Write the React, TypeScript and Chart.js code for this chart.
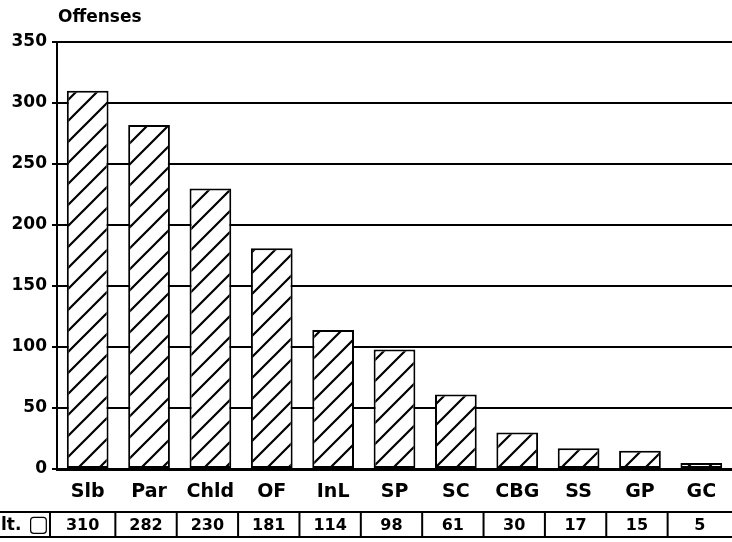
import React, { useEffect, useRef } from "react";
import { Chart, registerables } from "chart.js";

Chart.register(...registerables);

const categories = ["Slb", "Par", "Chld", "OF", "InL", "SP", "SC", "CBG", "SS", "GP", "GC"];
const offenses = [310, 282, 230, 181, 114, 98, 61, 30, 17, 15, 5];
const axisTitle = "Offenses";
const tableRowLabel = "lt.";
const tableRowIcon = "▢";
const yMin = 0;
const yMax = 350;
const yStep = 50;

function makeHatch(): CanvasPattern | string {
  const s = 21;
  const c = document.createElement("canvas");
  c.width = s;
  c.height = s;
  const g = c.getContext("2d");
  if (!g) return "#fff";
  g.fillStyle = "#fff";
  g.fillRect(0, 0, s, s);
  g.strokeStyle = "#000";
  g.lineWidth = 2.2;
  g.beginPath();
  g.moveTo(0, s);
  g.lineTo(s, 0);
  g.moveTo(-s / 2, s / 2);
  g.lineTo(s / 2, -s / 2);
  g.moveTo(s / 2, s * 1.5);
  g.lineTo(s * 1.5, s / 2);
  g.stroke();
  return g.createPattern(c, "repeat") || "#fff";
}

const decorPlugin = {
  id: "decor",
  afterDraw(chart: any) {
    const ctx = chart.ctx as CanvasRenderingContext2D;
    const area = chart.chartArea;
    const xs = chart.scales.x;
    ctx.save();
    // title
    ctx.fillStyle = "#000";
    ctx.font = "bold 17px 'DejaVu Sans'";
    ctx.textAlign = "left";
    ctx.textBaseline = "middle";
    ctx.fillText(axisTitle, area.left + 1, 18);

    // table
    const top = area.bottom + 43;
    const bottom = area.bottom + 68;
    const mid = (top + bottom) / 2;
    ctx.strokeStyle = "#000";
    ctx.lineWidth = 2;
    ctx.beginPath();
    ctx.moveTo(0, top);
    ctx.lineTo(chart.width, top);
    ctx.moveTo(0, bottom);
    ctx.lineTo(chart.width, bottom);
    const step = xs.getPixelForValue(1) - xs.getPixelForValue(0);
    const seps: number[] = [];
    for (let i = 0; i < categories.length; i++) {
      const sx = i === 0 ? area.left - 7 : xs.getPixelForValue(i) - step / 2 - 3;
      seps.push(sx);
      ctx.moveTo(sx, top);
      ctx.lineTo(sx, bottom);
    }
    seps.push(chart.width);
    ctx.stroke();

    ctx.font = "bold 17px 'DejaVu Sans'";
    ctx.textAlign = "left";
    ctx.fillText(tableRowLabel, 1, mid + 1);
    ctx.font = "bold 22px 'DejaVu Sans'";
    ctx.fillText(tableRowIcon, 28, mid + 1);

    ctx.font = "bold 16px 'DejaVu Sans'";
    ctx.textAlign = "center";
    for (let i = 0; i < offenses.length; i++) {
      ctx.fillText(String(offenses[i]), (seps[i] + seps[i + 1]) / 2, mid + 1);
    }
    ctx.restore();
  },
};

export default function App() {
  const ref = useRef<HTMLCanvasElement | null>(null);
  useEffect(() => {
    if (!ref.current) return;
    const hatch = makeHatch();
    const chart = new Chart(ref.current, {
      type: "bar",
      data: {
        labels: categories,
        datasets: [
          {
            data: offenses,
            backgroundColor: hatch as any,
            borderColor: "#000",
            borderWidth: 2,
            borderSkipped: false,
            barPercentage: 0.68,
            categoryPercentage: 1,
          },
        ],
      },
      options: {
        responsive: false,
        animation: false,
        layout: { padding: { top: 42, right: 0, bottom: 37, left: 0 } },
        plugins: {
          legend: { display: false },
          tooltip: { enabled: false },
          title: { display: false },
        },
        scales: {
          x: {
            grid: { display: false },
            border: { display: true, color: "#000", width: 3 },
            ticks: {
              color: "#000",
              font: { family: "'DejaVu Sans'", size: 19, weight: "bold" },
              padding: 4,
              maxRotation: 0,
            },
            afterFit: (s: any) => {
              s.height = 36;
            },
          },
          y: {
            min: yMin,
            max: yMax,
            ticks: {
              stepSize: yStep,
              color: "#000",
              padding: 5,
              font: { family: "'DejaVu Sans'", size: 17, weight: "bold" },
            },
            grid: { color: "#000", lineWidth: 2, tickLength: 5, drawTicks: true },
            border: { display: true, color: "#000", width: 2 },
            afterFit: (s: any) => {
              s.width = 57;
            },
          },
        },
      },
      plugins: [decorPlugin],
    });
    return () => chart.destroy();
  }, []);
  return (
    <div style={{ position: "fixed", left: 0, top: 0, width: 732, height: 542, background: "#fff" }}>
      <canvas ref={ref} width={732} height={542} />
    </div>
  );
}
